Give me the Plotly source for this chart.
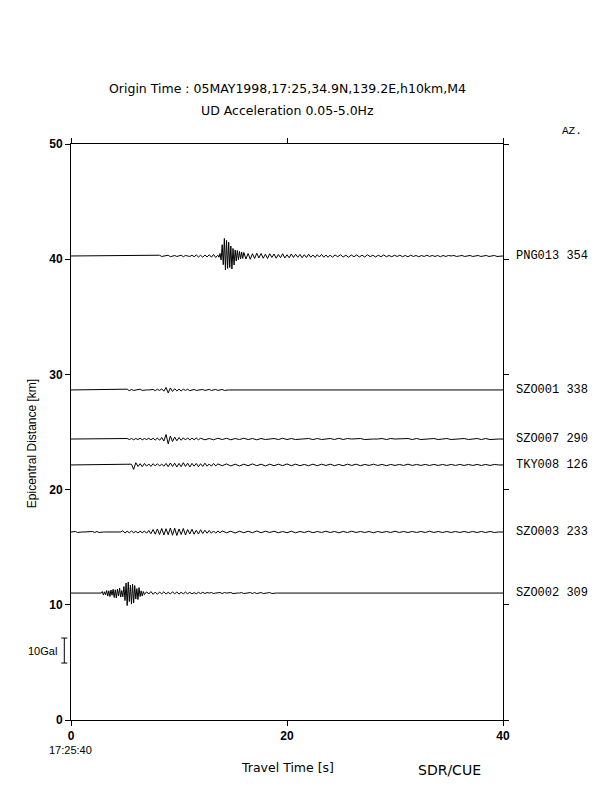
import plotly.graph_objects as go

# ---------------- data ----------------
# epicentral distance of each station [km] and its azimuth
stations = ["PNG013", "SZO001", "SZO007", "TKY008", "SZO003", "SZO002"]
azimuths = [354, 338, 290, 126, 233, 309]
distances = [40.28, 28.65, 24.39, 22.14, 16.32, 11.02]

# waveform segments: (start time [s], sample step [s], UD acceleration [Gal])
png013 = [
    (8.0, 0.2, [0.0, 0.3, -0.2, 0.0, 0.0, 0.3, -0.3, 0.0, 0.2, -0.2, 0.0, 0.3, -0.3, 0.2,
                0.0, -0.2, 0.3, -0.3, 0.4, -0.4, 0.3, -0.5, 0.4, -0.4, 0.5, -0.5, 0.6, -0.6]),
    (13.6, 0.1, [0.3, -0.5, 1.0, -1.6, 4.5, -3.5, 7.0, -5.6, 6.2, -5.0, 5.5, -4.6, 4.0, -5.2,
                 3.0, -3.6, 2.4, -2.0, 2.2, -1.5, 1.8, -1.2, 1.6, -1.0, 1.4]),
    (16.2, 0.2, [-1.2, 1.0, -1.3, 0.9, -1.0, 1.1, -0.8, 1.0, -0.9, 0.7, -1.0, 0.9, -0.6, 0.8,
                 -0.9, 0.6, -0.7, 0.9, -0.8, 0.5, -0.7, 0.8, -0.6, 0.7, -0.5, 0.6, -0.7, 0.5,
                 -0.6, 0.7, -0.5, 0.4, -0.6, 0.5, -0.4, 0.6, -0.5, 0.4, -0.5, 0.4]),
    (24.2, 0.25, [-0.5, 0.4, -0.3, 0.5, -0.4, 0.3, -0.5, 0.4, -0.3, 0.4, -0.4, 0.3, -0.4, 0.5,
                  -0.3, 0.3, -0.4, 0.3, -0.3, 0.4, -0.3, 0.2, -0.3, 0.3, -0.2, 0.3, -0.3, 0.2,
                  -0.3, 0.3, -0.2, 0.2, -0.3, 0.2, -0.2, 0.3, -0.2, 0.2, -0.2, 0.2, -0.3, 0.2,
                  -0.2, 0.2, 0.0, 0.2, -0.2, 0.0, 0.2, -0.2, 0.0, 0.2, -0.2, 0.0, 0.2, -0.2,
                  0.0, 0.2, -0.2, 0.0, 0.2, -0.2, 0.0]),
]
szo001 = [
    (5.2, 0.2, [0.3, -0.3, 0.2, -0.2, 0.0, 0.0, 0.3, -0.2, 0.0, 0.0, 0.0, 0.0, 0.2, -0.3,
                0.3, -0.2, 0.4, -0.5, 1.0, -1.2, 0.8, -0.6, 0.5, -0.4, 0.3, -0.4, 0.3, -0.2,
                0.3, -0.3, 0.0, 0.2, -0.2, 0.0, 0.0, 0.2, -0.2, 0.0, 0.2, -0.2, 0.0, 0.2,
                -0.2, 0.0, 0.2, -0.2, 0.0, 0.0]),
]
szo007 = [
    (5.2, 0.2, [0.2, -0.2, 0.2, -0.3, 0.2, -0.2, 0.3, -0.3, 0.2, -0.2, 0.3, -0.3, 0.3, -0.4,
                0.4, -0.5, 0.6, -0.8, 1.8, -1.9, 1.2, -1.0, 0.8, -0.7, 0.6, -0.5, 0.5, -0.4,
                0.5, -0.4, 0.4, -0.3, 0.4, -0.3]),
    (12.0, 0.4, [0.3, -0.3, 0.2, -0.3, 0.3, -0.2, 0.3, -0.3, 0.2, -0.2, 0.3, -0.2, 0.2, -0.3,
                 0.2, -0.2, 0.0, 0.2, -0.2, 0.3, -0.2, 0.2, -0.2, 0.0, 0.0, 0.2, -0.2, 0.2,
                 -0.2, 0.0, 0.2, -0.2, 0.3, -0.2, 0.2, 0.0, 0.0, 0.2, -0.2, 0.0, 0.0, 0.0,
                 0.2, -0.2, 0.2, 0.0, 0.0, 0.0, 0.2, -0.2, 0.2, -0.2, 0.0, 0.0, 0.2, -0.2,
                 0.0, 0.2, -0.2, 0.0, 0.0, 0.2, -0.2, 0.0, 0.2, -0.2, 0.2, -0.2, 0.0, 0.0]),
]
tky008 = [
    (5.6, 0.2, [0.3, -1.8, 0.9, -0.6, 0.5, -0.7, 0.6, -0.5, 0.4, -0.6, 0.5, -0.4, 0.5, -0.4,
                0.3, -0.5, 0.6, -0.7, 0.8, -0.6, 0.7, -0.8, 0.6, -0.7, 0.9, -0.6, 0.7, -0.8,
                0.6, -0.5, 0.6, -0.7, 0.5, -0.6, 0.7, -0.5, 0.4, -0.5, 0.6, -0.4]),
    (13.6, 0.4, [0.4, -0.3, 0.4, -0.4, 0.3, -0.4, 0.3, -0.3, 0.4, -0.3, 0.3, -0.4, 0.3, -0.3,
                 0.3, -0.3, 0.4, -0.3, 0.3, -0.3, 0.2, -0.3, 0.3, -0.3, 0.3, -0.2, 0.3, -0.3,
                 0.2, -0.3, 0.3, -0.2, 0.3, -0.3, 0.2, -0.2, 0.3, -0.2, 0.2, -0.3, 0.2, -0.2,
                 0.2, -0.2, 0.3, -0.2, 0.2, -0.2, 0.2, -0.2, 0.2, -0.2, 0.2, -0.2, 0.2, -0.2,
                 0.2, -0.2, 0.2, -0.2, 0.2, -0.2, 0.2, -0.2, 0.2, 0.0]),
]
szo003 = [
    (0.4, 0.2, [0.2, -0.2, 0.0, 0.0, 0.0, 0.0, 0.0, 0.0, 0.2, -0.2, 0.2, -0.2, 0.0, 0.0,
                0.0, 0.0, 0.0, 0.0, 0.0, 0.0, 0.0]),
    (4.6, 0.2, [0.0, 0.5, -0.4, 0.3, -0.3, 0.4, -0.3, 0.3, -0.4, 0.3, -0.3, 0.4, -0.5, 0.6,
                -0.7, 1.0, -0.9, 1.2, -1.0, 1.4, -1.2, 1.3, -1.1, 1.6, -1.3, 1.5, -1.4, 1.2,
                -1.0, 1.4, -1.2, 1.0, -0.8, 1.1, -0.9, 0.7, -0.8, 0.9, -0.6, 0.7, -0.5, 0.6,
                -0.5, 0.4, -0.5, 0.4, -0.3]),
    (14.0, 0.4, [0.4, -0.3, 0.3, -0.4, 0.3, -0.3, 0.3, -0.3, 0.4, -0.3, 0.3, -0.2, 0.3, -0.3,
                 0.2, -0.3, 0.3, -0.3, 0.2, -0.2, 0.3, -0.3, 0.2, -0.2, 0.3, -0.2, 0.2, -0.3,
                 0.2, -0.2, 0.3, -0.2, 0.2, -0.2, 0.2, -0.3, 0.2, -0.2, 0.2, -0.2, 0.3, -0.2,
                 0.2, -0.2, 0.2, -0.2, 0.2, -0.2, 0.3, -0.2, 0.2, -0.2, 0.2, -0.2, 0.2, -0.2,
                 0.2, -0.2, 0.2, -0.2, 0.2, -0.2, 0.2, -0.2, 0.0]),
]
szo002 = [
    (2.8, 0.1, [0.0, 0.6, -0.8, 0.5, -0.7, 1.0, -1.2, 0.9, -1.4, 1.2, -0.9, 1.5, -1.8, 1.3,
                -2.0, 1.6, -1.2, 2.0, -1.6, 1.0, -1.5, 2.6, -3.0, 4.0, -5.0, 4.4, -3.4, 3.2,
                -4.4, 3.6, -4.0, 3.0, -2.4, 1.8, -2.6, 2.2, -1.4, 0.9, -1.2, 0.6]),
    (6.8, 0.2, [-0.6, 0.5, -0.4, 0.6, -0.5, 0.4, -0.5, 0.4, -0.3, 0.5, -0.4, 0.3, -0.4, 0.5,
                -0.3, 0.4, -0.4, 0.3, -0.3, 0.4, -0.3, 0.3, -0.3, 0.2, -0.3, 0.3, -0.2, 0.3,
                -0.2, 0.2, 0.0, 0.2, -0.2, 0.0, 0.0, 0.2, -0.2, 0.2, 0.0, 0.0, 0.2, -0.2,
                0.0, 0.0, 0.0, 0.2, -0.2, 0.0, 0.0, 0.2, -0.2, 0.2, -0.2, 0.0, 0.2, -0.2,
                0.0, 0.0, 0.2, -0.2, 0.0, 0.0, 0.0, 0.0, 0.0, 0.0, 0.0, 0.0, 0.0]),
]
waveforms = [png013, szo001, szo007, tky008, szo003, szo002]

X_TICKS = [0, 20, 40]
Y_TICKS = [0, 10, 20, 30, 40, 50]
T_RANGE = (0, 40)
D_RANGE = (0, 50)
SCALE_GAL = 10          # amplitude scale bar
GAL_KM = 0.217          # 1 Gal drawn as this many km on the distance axis
SCALE_CENTER_KM = 6.03  # position of the scale bar

TITLE1 = "Origin Time : 05MAY1998,17:25,34.9N,139.2E,h10km,M4"
TITLE2 = "UD Acceleration 0.05-5.0Hz"

# ---------------- figure ----------------
fig = go.Figure()
for name, az, dist, segs in zip(stations, azimuths, distances, waveforms):
    ts, ys = [T_RANGE[0]], [dist]
    for t0, dt, vals in segs:
        for i, v in enumerate(vals):
            ts.append(t0 + i * dt)
            ys.append(dist + v * GAL_KM)
    ts.append(T_RANGE[1])
    ys.append(dist)
    fig.add_trace(go.Scatter(x=ts, y=ys, mode="lines",
                             line=dict(color="black", width=1),
                             showlegend=False, hoverinfo="skip"))
    fig.add_annotation(text=f"{name} {az}", xref="paper", yref="y", x=1, y=dist,
                       xshift=11, xanchor="left", yanchor="middle", showarrow=False,
                       font=dict(family="Liberation Mono", size=12, color="black"))

SANS = "Liberation Sans"
WIDE = "DejaVu Sans"


def label(text, x, y, size=12, family=SANS, **kw):
    fig.add_annotation(text=text, xref="paper", yref="paper", x=x, y=y,
                       xanchor="center", yanchor="middle", showarrow=False,
                       font=dict(family=family, size=size, color="black"), **kw)


label(TITLE1, 0.5, 1.097, size=12.5, family=WIDE)
label(TITLE2, 0.5, 1.059, size=12.5, family=WIDE)
label("AZ.", 1.16, 1.0226, size=11, family="Liberation Mono")
label("Travel Time [s]", 0.50, -0.0816, size=12.5, family=WIDE)
label("Epicentral Distance [km]", -0.09, 0.479, textangle=-90)
label("17:25:40", -0.002, -0.052, size=11)
label("SDR/CUE", 0.875, -0.087, size=14, family=WIDE)
label("10Gal", -0.066, SCALE_CENTER_KM / D_RANGE[1], size=11)

# amplitude scale bar
span = D_RANGE[1] - D_RANGE[0]
bx = -0.0155
cap = 0.007
yb0 = (SCALE_CENTER_KM - SCALE_GAL * GAL_KM / 2) / span
yb1 = (SCALE_CENTER_KM + SCALE_GAL * GAL_KM / 2) / span
for shp in [dict(x0=bx, x1=bx, y0=yb0, y1=yb1),
            dict(x0=bx - cap, x1=bx + cap, y0=yb0, y1=yb0),
            dict(x0=bx - cap, x1=bx + cap, y0=yb1, y1=yb1)]:
    fig.add_shape(type="line", xref="paper", yref="paper",
                  line=dict(color="black", width=1), **shp)

axis_common = dict(showgrid=False, zeroline=False, showline=True, linecolor="black",
                   linewidth=1, mirror="allticks", ticks="outside", ticklen=5,
                   tickwidth=1, tickcolor="black",
                   tickfont=dict(family=SANS, size=12, color="black", weight="bold"))
fig.update_xaxes(range=list(T_RANGE), tickvals=X_TICKS, **axis_common)
fig.update_yaxes(range=list(D_RANGE), tickvals=Y_TICKS, **axis_common)

fig.update_layout(width=612, height=792, plot_bgcolor="white", paper_bgcolor="white",
                  margin=dict(l=63, r=117, t=136, b=80), showlegend=False)

fig.write_html("out.html")
